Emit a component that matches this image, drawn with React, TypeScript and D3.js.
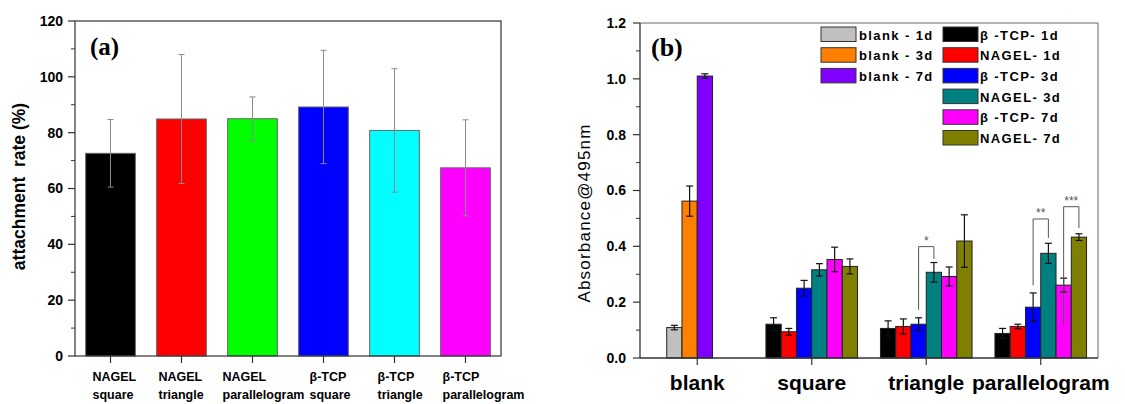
import * as d3 from 'd3'

// ---- panel (a): cell attachment rate ----
const attachLabels = [
  ['NAGEL', 'square'],
  ['NAGEL', 'triangle'],
  ['NAGEL', 'parallelogram'],
  ['β-TCP', 'square'],
  ['β-TCP', 'triangle'],
  ['β-TCP', 'parallelogram'],
]
const attachValues = [72.6, 84.9, 85.0, 89.2, 80.8, 67.4]
const attachErrors = [12.1, 23.1, 7.8, 20.3, 22.1, 17.2]
const attachColors = ['#000000', '#ff0000', '#00ff00', '#0000ff', '#00ffff', '#ff00ff']
const attachTicks = [0, 20, 40, 60, 80, 100, 120]

// ---- panel (b): absorbance ----
const groups = ['blank', 'square', 'triangle', 'parallelogram']
const blankSeries = ['blank - 1d', 'blank - 3d', 'blank - 7d']
const blankColors = ['#c0c0c0', '#ff8000', '#8000ff']
const blankValues = [0.109, 0.562, 1.01]
const blankErrors = [0.008, 0.054, 0.008]

const sampleSeries = ['β -TCP- 1d', 'NAGEL- 1d', 'β -TCP- 3d', 'NAGEL- 3d', 'β -TCP- 7d', 'NAGEL- 7d']
const sampleColors = ['#000000', '#ff0000', '#0000ff', '#008080', '#ff00ff', '#808000']
const squareValues = [0.121, 0.094, 0.25, 0.316, 0.353, 0.328]
const squareErrors = [0.023, 0.012, 0.028, 0.022, 0.044, 0.027]
const triangleValues = [0.106, 0.113, 0.121, 0.307, 0.292, 0.419]
const triangleErrors = [0.027, 0.027, 0.023, 0.035, 0.034, 0.094]
const parallelogramValues = [0.088, 0.113, 0.182, 0.375, 0.261, 0.433]
const parallelogramErrors = [0.018, 0.008, 0.051, 0.036, 0.025, 0.012]
const absTicks = [0, 0.2, 0.4, 0.6, 0.8, 1.0, 1.2]

// significance brackets: slots inside a group, bracket top and leg ends
const sigGroups = ['triangle', 'parallelogram', 'parallelogram']
const sigFrom = [2, 2, 4]
const sigTo = [3, 3, 5]
const sigTop = [0.399, 0.498, 0.542]
const sigFromEnd = [0.173, 0.26, 0.12]
const sigToEnd = [0.355, 0.43, 0.465]
const sigLabels = ['*', '**', '***']

const SANS = 'Liberation Sans, Arial, sans-serif'
const SERIF = 'Liberation Serif, Times New Roman, serif'

// label nudges for panel (a) – Origin placed these blocks a bit irregularly
const labelShift = [-18, -23, -30, -14, -17, -23]

function PanelA() {
  const left = 75, right = 501, top = 21, bottom = 356
  const x = d3.scaleBand<number>().domain(d3.range(6)).range([left, right]).paddingInner(0.3).paddingOuter(0.15)
  const y = d3.scaleLinear().domain([0, 120]).range([bottom, top])
  const minor = d3.range(10, 120, 20)

  return (
    <g>
      {attachValues.map((v, i) => (
        <rect key={i} x={x(i)} y={y(v)} width={x.bandwidth()} height={y(0) - y(v)}
          fill={attachColors[i]} stroke="#666" strokeWidth={1} />
      ))}
      {attachValues.map((v, i) => {
        const cx = x(i)! + x.bandwidth() / 2
        const hi = y(v + attachErrors[i]), lo = y(v - attachErrors[i])
        return (
          <g key={i} stroke="#8a8a8a" strokeWidth={1}>
            <line x1={cx} x2={cx} y1={hi} y2={lo} />
            <line x1={cx - 3} x2={cx + 3} y1={hi} y2={hi} />
            <line x1={cx - 3} x2={cx + 3} y1={lo} y2={lo} />
          </g>
        )
      })}
      <rect x={left} y={top} width={right - left} height={bottom - top} fill="none" stroke="#333" strokeWidth={1.2} />
      {attachTicks.map((t) => (
        <g key={t}>
          <line x1={left - 7} x2={left} y1={y(t)} y2={y(t)} stroke="#333" strokeWidth={1.2} />
          <text x={left - 12} y={y(t)} dy="0.35em" textAnchor="end" fontFamily={SANS} fontWeight="bold" fontSize={14}>{t}</text>
        </g>
      ))}
      {minor.map((t) => (
        <line key={t} x1={left - 4} x2={left} y1={y(t)} y2={y(t)} stroke="#333" strokeWidth={1} />
      ))}
      {attachLabels.map((lab, i) => {
        const cx = x(i)! + x.bandwidth() / 2
        return (
          <g key={i}>
            <line x1={cx} x2={cx} y1={bottom} y2={bottom + 7} stroke="#333" strokeWidth={1.2} />
            <text x={cx + labelShift[i]} y={381} fontFamily={SANS} fontWeight="bold" fontSize={12.5}>{lab[0]}</text>
            <text x={cx + labelShift[i]} y={399} fontFamily={SANS} fontWeight="bold" fontSize={12.5}>{lab[1]}</text>
          </g>
        )
      })}
      <text transform={`translate(25,${(top + bottom) / 2 - 2}) rotate(-90)`} textAnchor="middle"
        fontFamily={SANS} fontWeight="bold" fontSize={17.5} style={{ whiteSpace: 'pre' }}>attachment  rate (%)</text>
      <text x={90} y={55} fontFamily={SERIF} fontWeight="bold" fontSize={25}>(a)</text>
    </g>
  )
}

function PanelB() {
  const left = 640, right = 1098, top = 23, bottom = 358
  const x0 = d3.scaleBand<string>().domain(groups).range([left, right])
  const x1 = d3.scaleBand<number>().domain(d3.range(6)).range([0, x0.bandwidth()]).paddingOuter(0.75)
  const y = d3.scaleLinear().domain([0, 1.2]).range([bottom, top])
  const minor = d3.range(0.1, 1.2, 0.2)

  const sampleTable: Record<string, [number[], number[]]> = {
    square: [squareValues, squareErrors],
    triangle: [triangleValues, triangleErrors],
    parallelogram: [parallelogramValues, parallelogramErrors],
  }

  type Bar = { g: string; slot: number; v: number; e: number; c: string }
  const bars: Bar[] = []
  blankValues.forEach((v, i) => bars.push({ g: 'blank', slot: i + 1, v, e: blankErrors[i], c: blankColors[i] }))
  for (const g of groups.slice(1)) {
    const [vals, errs] = sampleTable[g]
    vals.forEach((v, i) => bars.push({ g, slot: i, v, e: errs[i], c: sampleColors[i] }))
  }
  const bx = (g: string, s: number) => x0(g)! + x1(s)!
  const bc = (g: string, s: number) => bx(g, s) + x1.bandwidth() / 2

  const legendRow = 20.7
  return (
    <g>
      {bars.map((b, i) => (
        <rect key={i} x={bx(b.g, b.slot)} y={y(b.v)} width={x1.bandwidth()} height={y(0) - y(b.v)}
          fill={b.c} stroke="#222" strokeWidth={1} />
      ))}
      {bars.map((b, i) => {
        const cx = bc(b.g, b.slot)
        const hi = y(b.v + b.e), lo = y(b.v - b.e)
        return (
          <g key={i} stroke="#111" strokeWidth={1.2}>
            <line x1={cx} x2={cx} y1={hi} y2={lo} />
            <line x1={cx - 3.5} x2={cx + 3.5} y1={hi} y2={hi} />
            <line x1={cx - 3.5} x2={cx + 3.5} y1={lo} y2={lo} />
          </g>
        )
      })}
      {sigLabels.map((lab, i) => {
        const xa = bc(sigGroups[i], sigFrom[i]), xb = bc(sigGroups[i], sigTo[i])
        const yt = y(sigTop[i])
        return (
          <g key={i}>
            <path d={`M${xa},${y(sigFromEnd[i])}V${yt}H${xb}V${y(sigToEnd[i])}`} fill="none" stroke="#555" strokeWidth={1} />
            <text x={(xa + xb) / 2} y={yt - 2} textAnchor="middle" fontFamily={SANS} fontSize={12} fill="#555">{lab}</text>
          </g>
        )
      })}
      <line x1={left} x2={right} y1={top} y2={top} stroke="#666" strokeWidth={1} />
      <line x1={right} x2={right} y1={top} y2={bottom} stroke="#666" strokeWidth={1} />
      <line x1={left} x2={left} y1={top} y2={bottom} stroke="#333" strokeWidth={1.3} />
      <line x1={left} x2={right} y1={bottom} y2={bottom} stroke="#333" strokeWidth={1.3} />
      {absTicks.map((t) => (
        <g key={t}>
          <line x1={left - 7} x2={left} y1={y(t)} y2={y(t)} stroke="#333" strokeWidth={1.2} />
          <text x={left - 14} y={y(t)} dy="0.35em" textAnchor="end" fontFamily={SANS} fontWeight="bold" fontSize={14}>{t.toFixed(1)}</text>
        </g>
      ))}
      {minor.map((t) => (
        <line key={t} x1={left - 4} x2={left} y1={y(t)} y2={y(t)} stroke="#333" strokeWidth={1} />
      ))}
      {groups.map((g) => {
        const cx = x0(g)! + x0.bandwidth() / 2
        return (
          <g key={g}>
            <line x1={cx} x2={cx} y1={bottom} y2={bottom + 7} stroke="#333" strokeWidth={1.2} />
            <text x={cx} y={390} textAnchor="middle" fontFamily={SANS} fontWeight="bold" fontSize={21}>{g}</text>
          </g>
        )
      })}
      <text transform={`translate(590,213) rotate(-90)`} textAnchor="middle" fontFamily={SANS}
        fontSize={17} letterSpacing={1.2}>Absorbance@495nm</text>
      <text x={651} y={56} fontFamily={SERIF} fontWeight="bold" fontSize={26}>(b)</text>
      {blankSeries.map((s, i) => (
        <g key={s} transform={`translate(821,${27 + i * legendRow})`}>
          <rect width={35} height={14.5} fill={blankColors[i]} stroke="#333" strokeWidth={1} />
          <text x={38} y={12.5} fontFamily={SANS} fontWeight="bold" fontSize={13} letterSpacing={1.4}>{s}</text>
        </g>
      ))}
      {sampleSeries.map((s, i) => (
        <g key={s} transform={`translate(943,${27 + i * legendRow})`}>
          <rect width={35} height={14.5} fill={sampleColors[i]} stroke="#333" strokeWidth={1} />
          <text x={37} y={12.5} fontFamily={SANS} fontWeight="bold" fontSize={13} letterSpacing={1.4}>{s}</text>
        </g>
      ))}
    </g>
  )
}

export default function App() {
  return (
    <svg width={1125} height={404} style={{ position: 'fixed', left: 0, top: 0, background: '#fff' }}>
      <PanelA />
      <PanelB />
    </svg>
  )
}
